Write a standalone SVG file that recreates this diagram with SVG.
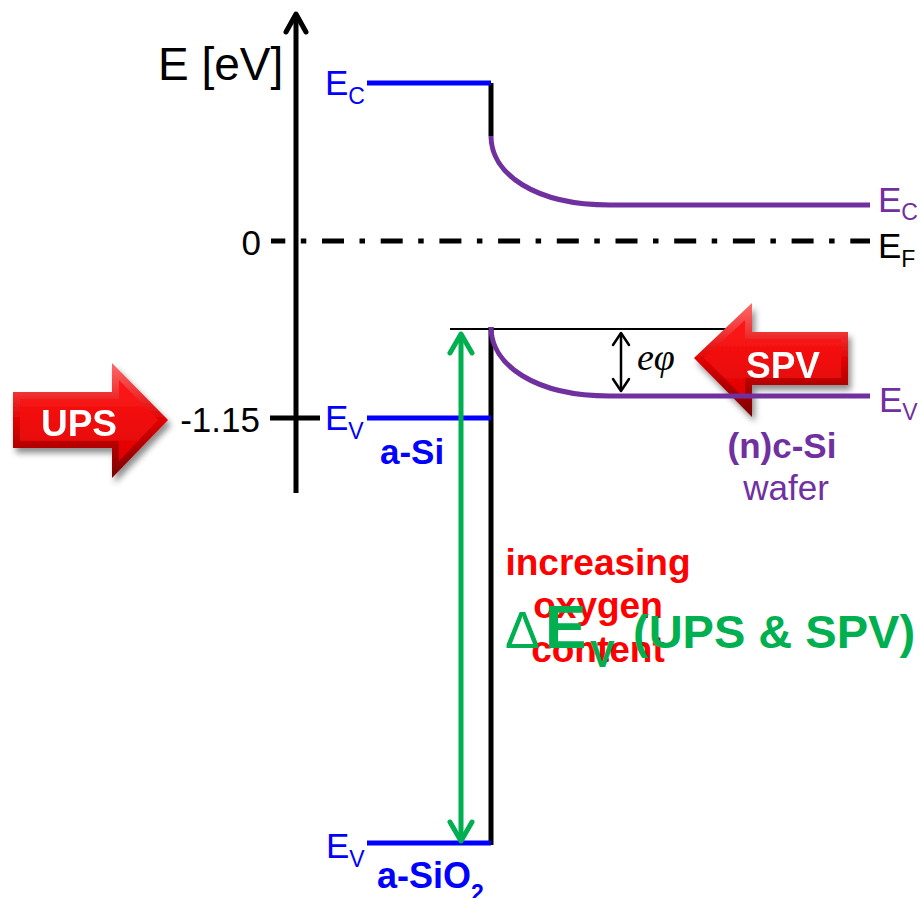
<svg xmlns="http://www.w3.org/2000/svg" width="921" height="898" viewBox="0 0 921 898">
<style>
text{font-family:"Liberation Sans",Arial,sans-serif}
.lbl{font-size:35px}
.sub{font-size:23px}
.bold{font-weight:bold}
.blue{fill:#0000ff}
.purple{fill:#7030a0}
.black{fill:#000}
.red{fill:#ff0000}
.green{fill:#00b050}
.ln{fill:none;stroke-width:5}
.arrtxt{font-size:37px;font-weight:bold;fill:#fff}
</style>
<defs>
<linearGradient id="bevel" x1="0" y1="0" x2="0" y2="1">
<stop offset="0" stop-color="#ff6a6a"/>
<stop offset="0.5" stop-color="#e00000"/>
<stop offset="1" stop-color="#7a0000"/>
</linearGradient>
<linearGradient id="face" x1="0" y1="0" x2="0" y2="1">
<stop offset="0" stop-color="#ff1a1a"/>
<stop offset="1" stop-color="#e00000"/>
</linearGradient>
<filter id="shadow" x="-20%" y="-20%" width="140%" height="150%">
<feDropShadow dx="3" dy="5" stdDeviation="3" flood-color="#000" flood-opacity="0.45"/>
</filter>
</defs>

<g id="connectors">
<line id="fermi" x1="271" y1="241" x2="870" y2="241" stroke="#000" stroke-width="5" stroke-dasharray="22 15.5 5.5 15.7" stroke-dashoffset="7.7"/>
<g id="axis" stroke="#000" stroke-width="5" fill="none" stroke-linecap="round" stroke-linejoin="round">
<line x1="296" y1="16" x2="296" y2="493" stroke-linecap="butt"/>
<polyline points="286,32 296,14 306,32"/>
</g>
<line id="tick" x1="270" y1="418" x2="320" y2="418" stroke="#000" stroke-width="5"/>
<line id="ev-top" x1="450" y1="329" x2="752" y2="329" stroke="#000" stroke-width="2"/>
<line id="iface-top" x1="491" y1="83" x2="491" y2="136" stroke="#000" stroke-width="5"/>
<line id="iface" x1="491" y1="327" x2="491" y2="845" stroke="#000" stroke-width="5"/>
<line id="ec-asi" class="ln" x1="367" y1="83" x2="491" y2="83" stroke="#0000ff"/>
<line id="ev-asi" class="ln" x1="367" y1="418" x2="491" y2="418" stroke="#0000ff"/>
<line id="ev-asio2" class="ln" x1="367" y1="843" x2="491" y2="843" stroke="#0000ff"/>
<path id="ec-csi" class="ln" d="M491,136 C491,174 535,205 610,205 L870,205" stroke="#7030a0"/>
<g id="dEv-arrow" stroke="#00b050" stroke-width="5" fill="none" stroke-linecap="round" stroke-linejoin="round">
<line x1="461" y1="336" x2="461" y2="840"/>
<polyline points="450,353 461,334 472,353"/>
<polyline points="450,822 461,841 472,822"/>
</g>
<g id="ephi-arrow" stroke="#000" stroke-width="2.5" fill="none" stroke-linecap="round" stroke-linejoin="round">
<line x1="621" y1="334" x2="621" y2="390"/>
<polyline points="613,345 621,333 629,345"/>
<polyline points="613,379 621,391 629,379"/>
</g>
</g>

<g id="ups" filter="url(#shadow)">
<polygon points="13,392 112,392 112,363 168,420 112,478 112,448 13,448" fill="url(#bevel)"/>
<polygon points="20,399 119,399 119,380 158,420 119,461 119,441 20,441" fill="url(#face)"/>
<text class="arrtxt" x="79" y="436" text-anchor="middle">UPS</text>
</g>

<g id="spv" filter="url(#shadow)">
<polygon points="848,332 752,332 752,303 694,358 752,417 752,385 848,385" fill="url(#bevel)"/>
<polygon points="841,339 745,339 745,320 704,358 745,399 745,378 841,378" fill="url(#face)"/>
<text class="arrtxt" x="783" y="378" text-anchor="middle">SPV</text>
</g>

<path id="ev-csi" class="ln" d="M491,327 C491,365 535,396 610,396 L870,396" stroke="#7030a0"/>

<g id="labels">
<text id="axis-label" x="158" y="80" font-size="46" class="black">E [eV]</text>
<text id="zero" x="261" y="255" class="lbl black" text-anchor="end">0</text>
<text id="v115" x="260" y="432" class="lbl black" text-anchor="end">-1.15</text>
<text id="ec-blue" x="325" y="95" class="lbl blue">E<tspan class="sub" dy="9">C</tspan></text>
<text id="ev-blue" x="325" y="430" class="lbl blue">E<tspan class="sub" dy="9">V</tspan></text>
<text id="ev-blue2" x="326" y="858" class="lbl blue">E<tspan class="sub" dy="9">V</tspan></text>
<text id="ec-purple" x="878" y="212" class="lbl purple">E<tspan class="sub" dy="8">C</tspan></text>
<text id="ef" x="878" y="258" class="lbl black">E<tspan class="sub" dy="9">F</tspan></text>
<text id="ev-purple" x="879" y="412" class="lbl purple">E<tspan class="sub" dy="8">V</tspan></text>
<text id="asi" x="380" y="464" class="lbl bold blue">a-Si</text>
<text id="asio2" x="377" y="888" font-size="36" class="bold blue">a-SiO<tspan class="sub" dy="13">2</tspan></text>
<text id="ncsi" x="782" y="458" class="lbl bold purple" text-anchor="middle">(n)c-Si</text>
<text id="wafer" x="786" y="500" class="lbl purple" text-anchor="middle">wafer</text>
<text id="ephi" x="637" y="370" font-size="38" font-style="italic" style="font-family:'Liberation Serif','DejaVu Serif',serif">eφ</text>
<g id="oxygen" class="red bold" font-size="37" text-anchor="middle">
<text x="598" y="575">increasing</text>
<text x="598" y="618">oxygen</text>
<text x="598" y="662">content</text>
</g>
<text id="dEv" class="green" y="648"><tspan x="505" font-size="52">Δ</tspan><tspan x="545" font-size="62" font-weight="bold">E</tspan><tspan x="590" y="667" font-size="37" font-weight="bold">V</tspan><tspan x="633" y="648" font-size="47" font-weight="bold">(UPS &amp; SPV)</tspan></text>
</g>
</svg>
